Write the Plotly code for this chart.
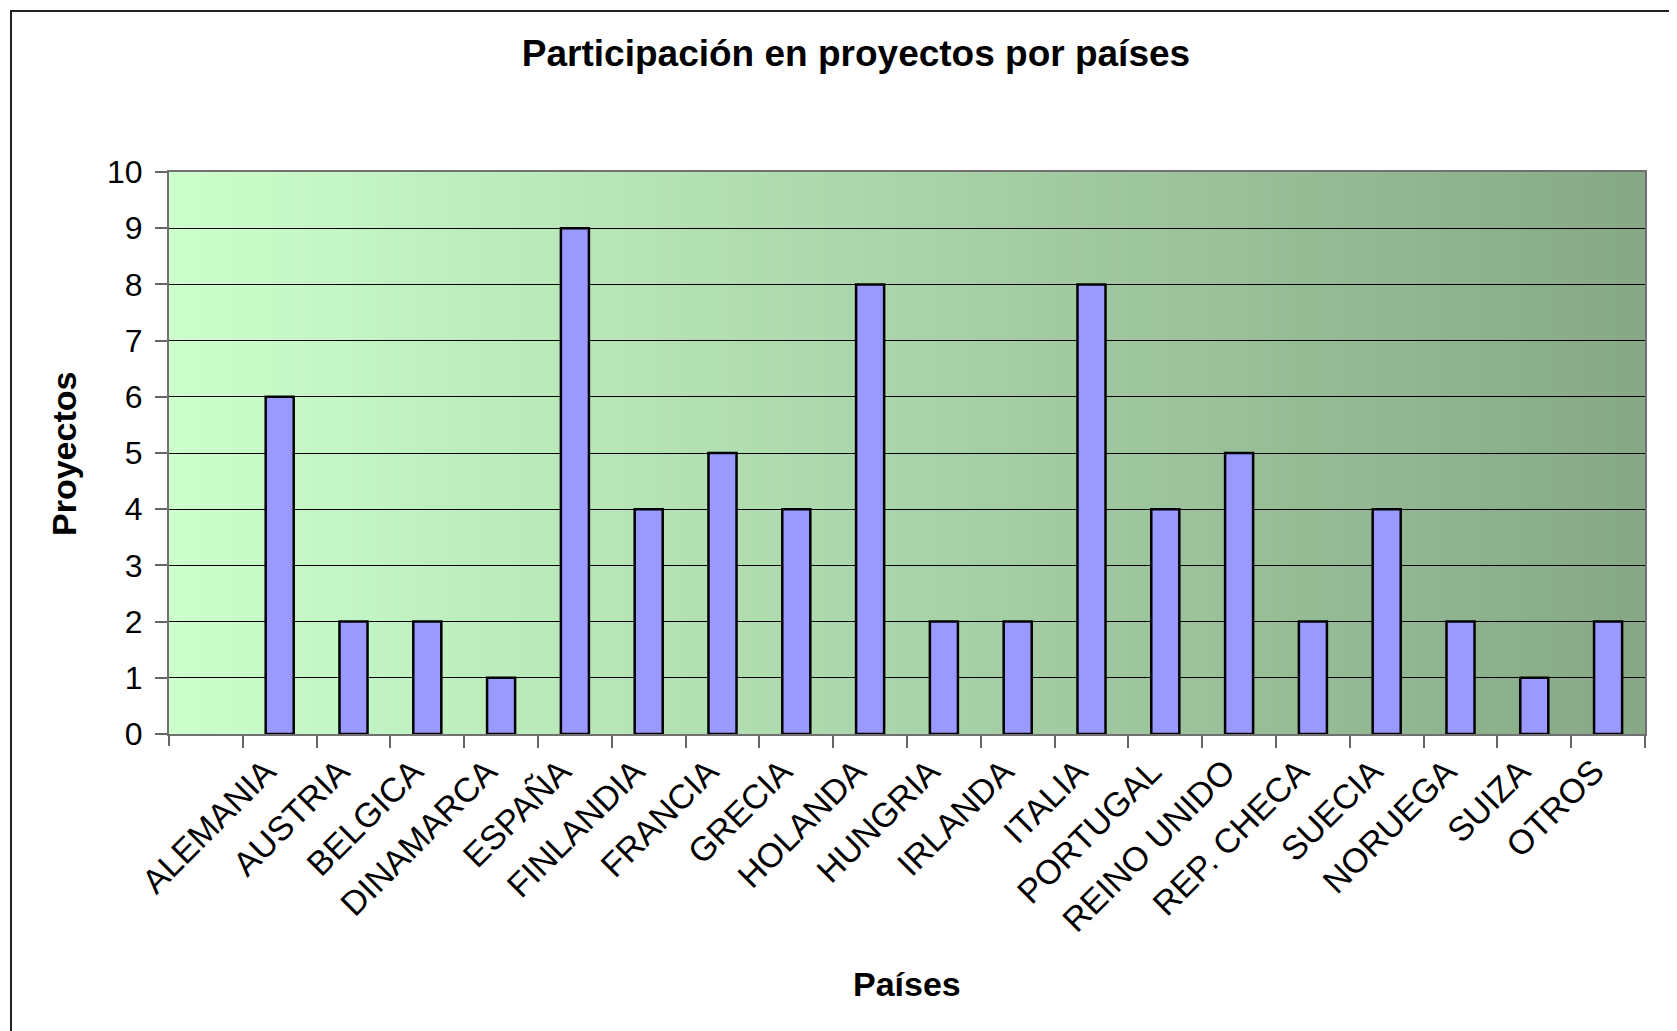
import plotly.graph_objects as go

countries = ["ALEMANIA", "AUSTRIA", "BELGICA", "DINAMARCA", "ESPAÑA", "FINLANDIA",
             "FRANCIA", "GRECIA", "HOLANDA", "HUNGRIA", "IRLANDA", "ITALIA",
             "PORTUGAL", "REINO UNIDO", "REP. CHECA", "SUECIA", "NORUEGA", "SUIZA", "OTROS"]
proyectos = [6, 2, 2, 1, 9, 4, 5, 4, 8, 2, 2, 8, 4, 5, 2, 4, 2, 1, 2]
y_ticks = list(range(0, 11))

W, H = 1677, 1031
OFF = 8  # page body margin offset
ML, MR, MT, MB = 169 - OFF, 32 + OFF, 172 - OFF, 297 + OFF
PW = W - ML - MR
PH = H - MT - MB

def px_x(p):
    return (p - OFF - ML) / PW

def px_y(p):
    return (H - MB - (p - OFF)) / PH

FONT = "Liberation Sans, Arial, sans-serif"

fig = go.Figure()
fig.add_trace(go.Bar(
    x=countries, y=proyectos,
    marker=dict(color="#9999FF", line=dict(color="#000000", width=2.5)),
    showlegend=False,
))

# gradient background of the plot area (decorative strips)
shapes = []
N = 160
c0 = (204, 255, 204)
c1 = (134, 168, 134)
for i in range(N):
    t = i / (N - 1)
    col = tuple(round(c0[k] + (c1[k] - c0[k]) * t) for k in range(3))
    shapes.append(dict(type="rect", xref="paper", yref="paper",
                       x0=i / N, x1=(i + 1) / N + 0.0005, y0=0, y1=1,
                       fillcolor="rgb(%d,%d,%d)" % col, line=dict(width=0),
                       layer="below"))
# outer chart frame
shapes.append(dict(type="rect", xref="paper", yref="paper",
                   x0=px_x(11), x1=px_x(1720), y0=px_y(11), y1=px_y(1100),
                   line=dict(color="#222222", width=2), fillcolor="rgba(0,0,0,0)",
                   layer="above"))
# leftmost boundary tick below the axis
shapes.append(dict(type="line", xref="paper", yref="paper",
                   x0=0, x1=0, y0=0, y1=px_y(746),
                   line=dict(color="#666666", width=2)))

fig.update_layout(
    width=W, height=H,
    margin=dict(l=ML, r=MR, t=MT, b=MB),
    paper_bgcolor="white",
    plot_bgcolor="rgba(0,0,0,0)",
    bargap=0.62,
    font=dict(family=FONT, color="black"),
    title=dict(text="<b>Participación en proyectos por países</b>",
               font=dict(family=FONT, size=37, color="black"),
               xref="container", yref="container",
               x=(856 - OFF) / W, y=1 - (53 - OFF) / H, xanchor="center", yanchor="middle"),
    shapes=shapes,
    annotations=[
        dict(text="<b>Proyectos</b>", xref="paper", yref="paper",
             x=px_x(64), y=px_y(454), textangle=-90, showarrow=False,
             font=dict(family=FONT, size=34, color="black"),
             xanchor="center", yanchor="middle"),
        dict(text="<b>Países</b>", xref="paper", yref="paper",
             x=px_x(907), y=px_y(984), showarrow=False,
             font=dict(family=FONT, size=34, color="black"),
             xanchor="center", yanchor="middle"),
    ],
)

fig.update_xaxes(
    type="category",
    range=[-1.5, len(countries) - 0.5],
    tickangle=-45,
    tickfont=dict(family=FONT, size=34, color="black"),
    ticks="outside", tickson="boundaries", ticklen=12, tickwidth=2, tickcolor="#666666",
    showline=True, linecolor="#707070", linewidth=2, mirror=True,
    showgrid=False, ticklabelstandoff=2, ticklabelshift=-14,
)
fig.update_yaxes(
    range=[0, 10],
    tickvals=y_ticks,
    tickfont=dict(family=FONT, size=32, color="black"),
    ticks="outside", ticklen=12, tickwidth=2, tickcolor="#666666",
    showline=True, linecolor="#707070", linewidth=2, mirror=True,
    showgrid=True, gridcolor="#000000", gridwidth=1,
    zeroline=False, ticklabelstandoff=6,
)

fig.write_html("out.html")
